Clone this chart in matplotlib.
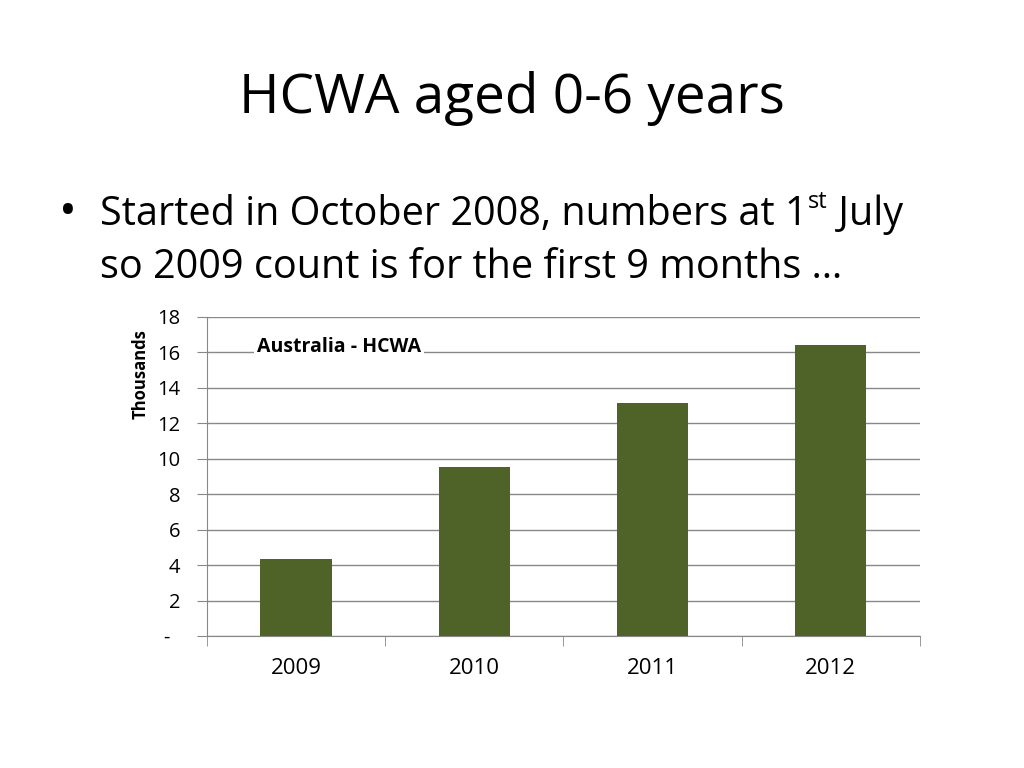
import matplotlib
matplotlib.use("Agg")
import matplotlib.pyplot as plt
from matplotlib.ticker import FixedLocator

years = ["2009", "2010", "2011", "2012"]
counts = [4.35, 9.54, 13.15, 16.42]  # thousands
yticks = [0, 2, 4, 6, 8, 10, 12, 14, 16, 18]
ytick_labels = ["-  ", "2", "4", "6", "8", "10", "12", "14", "16", "18"]

plt.rcParams['font.family'] = ['Open Sans', 'DejaVu Sans']

fig = plt.figure(figsize=(10.24, 7.68), dpi=100)

# slide title and bullet
fig.text(0.5, 0.872, "HCWA aged 0-6 years", ha="center", va="center", fontsize=39.5)
fig.text(0.058, 0.722, "\u2022", ha="left", va="center", fontsize=34)
line1 = fig.text(0.098, 0.72, "Started in October 2008, numbers at 1", ha="left", va="center", fontsize=28.5)
fig.canvas.draw()
r = fig.canvas.get_renderer()
bb = line1.get_window_extent(r)
sup = fig.text(bb.x1 / fig.bbox.width, 0.737, "st", ha="left", va="center", fontsize=17)
bb2 = sup.get_window_extent(r)
fig.text(bb2.x1 / fig.bbox.width, 0.72, " July", ha="left", va="center", fontsize=28.5)
fig.text(0.098, 0.651, "so 2009 count is for the first 9 months \u2026", ha="left", va="center", fontsize=28.5)

ax = fig.add_axes([0.2021, 0.1719, 0.6963, 0.4154])
x = range(len(years))
ax.bar(x, counts, width=0.4, color="#4F6228", zorder=3)

ax.set_xlim(-0.5, len(years) - 0.5)
ax.set_ylim(0, 18)
ax.set_yticks(yticks)
ax.set_yticklabels(ytick_labels, fontsize=14.5)
ax.set_xticks(list(x))
ax.set_xticklabels(years, fontsize=16)
ax.xaxis.set_minor_locator(FixedLocator([-0.5, 0.5, 1.5, 2.5, 3.5]))
ax.tick_params(axis="x", which="major", length=0, pad=16)
ax.tick_params(axis="x", which="minor", length=7, color="#888888")
ax.tick_params(axis="y", length=7, color="#888888", pad=12)
ax.grid(axis="y", color="#888888", linewidth=1, zorder=0)

for s in ["top", "right"]:
    ax.spines[s].set_visible(False)
ax.spines["left"].set_color("#888888")
ax.spines["bottom"].set_color("#888888")

ax.set_ylabel("Thousands", fontsize=12, fontweight="bold")
ax.yaxis.set_label_coords(-0.08, 0.82)

ax.text(0.07, 0.905, "Australia - HCWA", transform=ax.transAxes, fontsize=14,
        fontweight="bold", ha="left", va="center", zorder=5,
        bbox=dict(facecolor="white", edgecolor="none", pad=2))

fig.savefig("out.png", dpi=100)
